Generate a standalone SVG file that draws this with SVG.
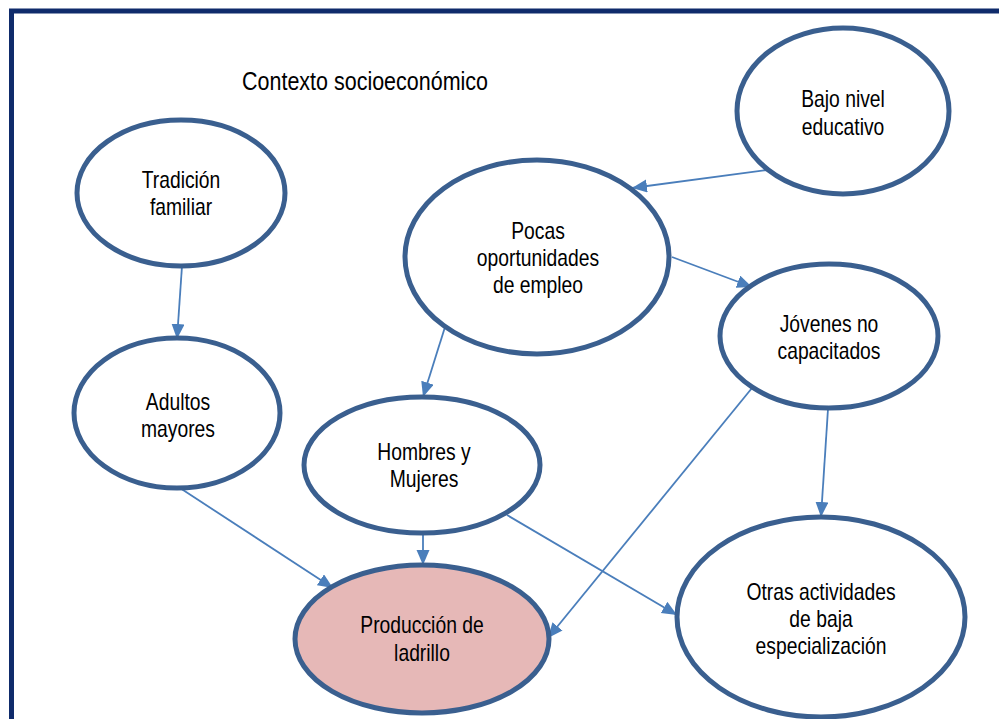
<svg xmlns="http://www.w3.org/2000/svg" width="999" height="719" viewBox="0 0 999 719">
<style>
.node{fill:#ffffff;stroke:#3a5f8f;stroke-width:5}
.hl{fill:#e6b8b7}
.lbl{font-family:"Liberation Sans",Arial,sans-serif;font-size:23px;fill:#000;text-anchor:middle}
.title{font-size:25px}
.conn line{stroke:#4a7ebb;stroke-width:1.8;fill:none;marker-end:url(#ah)}
</style>
<defs>
<marker id="ah" markerUnits="userSpaceOnUse" markerWidth="16" markerHeight="14" refX="15" refY="6.5" orient="auto">
<path d="M0,0 L15,6.5 L0,13 z" fill="#4a7ebb"/>
</marker>
</defs>
<rect width="999" height="719" fill="#ffffff"/>
<rect x="11.5" y="11" width="1000" height="720" fill="none" stroke="#0f2b6b" stroke-width="5"/>
<text class="lbl title" transform="matrix(0.86 0 0 1 365 0)" x="0" y="90">Contexto socioeconómico</text>

<g class="conn" id="connectors">
<line x1="182" y1="266" x2="177" y2="339"/>
<line x1="767" y1="170" x2="632" y2="188"/>
<line x1="672" y1="257" x2="752" y2="287"/>
<line x1="445" y1="327" x2="423" y2="397"/>
<line x1="828" y1="409" x2="821" y2="517"/>
<line x1="752" y1="388" x2="548" y2="638"/>
<line x1="180" y1="488" x2="333" y2="588"/>
<line x1="423" y1="534" x2="423" y2="565"/>
<line x1="507" y1="515" x2="677" y2="615"/>
</g>

<g id="tradicion">
<ellipse class="node" cx="181" cy="193" rx="104" ry="73"/>
<text class="lbl" transform="matrix(0.84 0 0 1 181 0)" x="0" y="188">Tradición</text>
<text class="lbl" transform="matrix(0.84 0 0 1 181 0)" x="0" y="215">familiar</text>
</g>
<g id="bajo">
<ellipse class="node" cx="843" cy="111" rx="106" ry="83"/>
<text class="lbl" transform="matrix(0.84 0 0 1 843 0)" x="0" y="107">Bajo nivel</text>
<text class="lbl" transform="matrix(0.84 0 0 1 843 0)" x="0" y="135">educativo</text>
</g>
<g id="pocas">
<ellipse class="node" cx="537" cy="257" rx="132" ry="97"/>
<text class="lbl" transform="matrix(0.84 0 0 1 538 0)" x="0" y="239">Pocas</text>
<text class="lbl" transform="matrix(0.84 0 0 1 538 0)" x="0" y="266">oportunidades</text>
<text class="lbl" transform="matrix(0.84 0 0 1 538 0)" x="0" y="293">de empleo</text>
</g>
<g id="jovenes">
<ellipse class="node" cx="829" cy="336" rx="109" ry="72"/>
<text class="lbl" transform="matrix(0.84 0 0 1 829 0)" x="0" y="332">Jóvenes no</text>
<text class="lbl" transform="matrix(0.84 0 0 1 829 0)" x="0" y="359">capacitados</text>
</g>
<g id="adultos">
<ellipse class="node" cx="177" cy="413" rx="103" ry="75"/>
<text class="lbl" transform="matrix(0.84 0 0 1 178 0)" x="0" y="410">Adultos</text>
<text class="lbl" transform="matrix(0.84 0 0 1 178 0)" x="0" y="437">mayores</text>
</g>
<g id="hombres">
<ellipse class="node" cx="422" cy="465" rx="118" ry="68"/>
<text class="lbl" transform="matrix(0.84 0 0 1 424 0)" x="0" y="460">Hombres y</text>
<text class="lbl" transform="matrix(0.84 0 0 1 424 0)" x="0" y="487">Mujeres</text>
</g>
<g id="produccion">
<ellipse class="node hl" cx="422" cy="639" rx="127" ry="74"/>
<text class="lbl" transform="matrix(0.84 0 0 1 422 0)" x="0" y="633">Producción de</text>
<text class="lbl" transform="matrix(0.84 0 0 1 422 0)" x="0" y="661">ladrillo</text>
</g>
<g id="otras">
<ellipse class="node" cx="821" cy="617" rx="144" ry="100"/>
<text class="lbl" transform="matrix(0.84 0 0 1 821 0)" x="0" y="600">Otras actividades</text>
<text class="lbl" transform="matrix(0.84 0 0 1 821 0)" x="0" y="627">de baja</text>
<text class="lbl" transform="matrix(0.84 0 0 1 821 0)" x="0" y="654">especialización</text>
</g>
</svg>
